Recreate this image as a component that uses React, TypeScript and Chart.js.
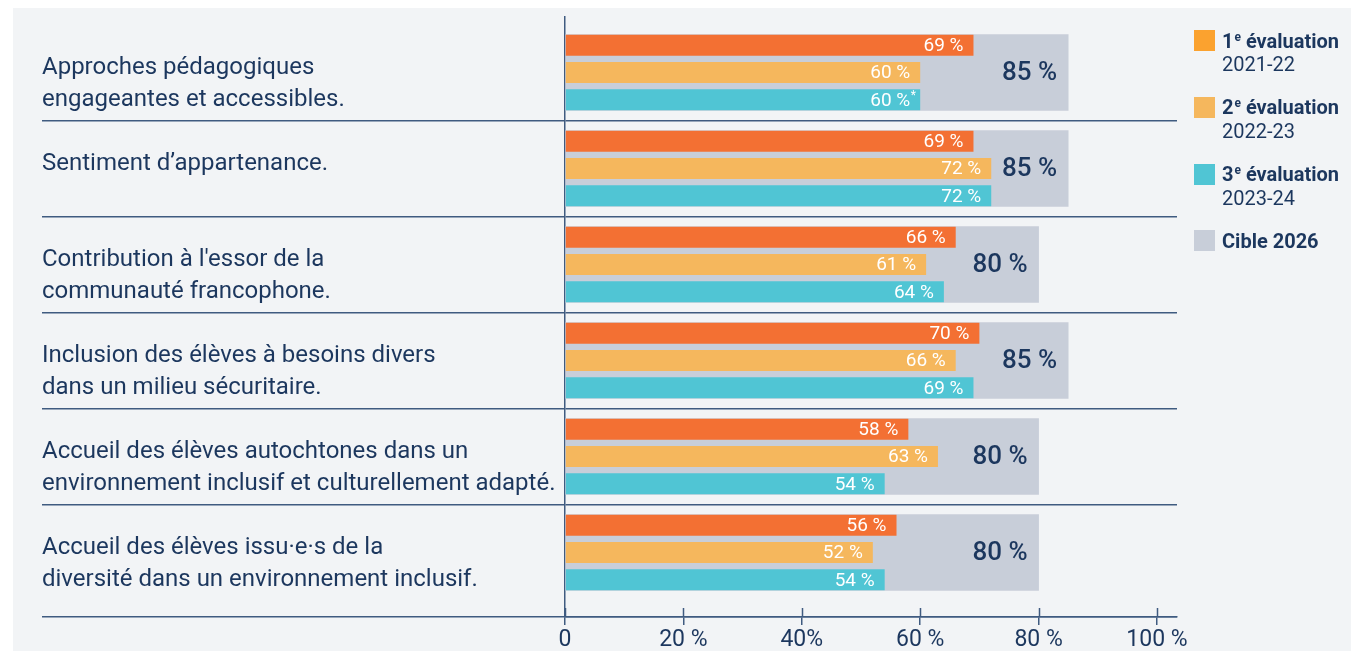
import React, { useEffect, useRef } from 'react';
import { Chart, registerables } from 'chart.js';

Chart.register(...registerables);

// ---------- data ----------
const categories: string[][] = [
  ['Approches pédagogiques', 'engageantes et accessibles.'],
  ['Sentiment d’appartenance.', ''],
  ["Contribution à l'essor de la", 'communauté francophone.'],
  ['Inclusion des élèves à besoins divers', 'dans un milieu sécuritaire.'],
  ['Accueil des élèves autochtones dans un', 'environnement inclusif et culturellement adapté.'],
  ['Accueil des élèves issu·e·s de la', 'diversité dans un environnement inclusif.'],
];
const eval1 = [69, 69, 66, 70, 58, 56];
const eval2 = [60, 72, 61, 66, 63, 52];
const eval3 = [60, 72, 64, 69, 54, 54];
const target2026 = [85, 85, 80, 85, 80, 80];
const eval3Notes = ['*', '', '', '', '', ''];
const xTickValues = [0, 20, 40, 60, 80, 100];
const xTickLabels = ['0', '20 %', '40%', '60 %', '80 %', '100 %'];
const legendItems = [
  { num: '1', sup: 'e', title: ' évaluation', sub: '2021-22', color: '#FBA22F' },
  { num: '2', sup: 'e', title: ' évaluation', sub: '2022-23', color: '#F5B75D' },
  { num: '3', sup: 'e', title: ' évaluation', sub: '2023-24', color: '#50C5D4' },
  { num: 'Cible 2026', sup: '', title: '', sub: '', color: '#C8CED9' },
];

// ---------- style ----------
const NAVY = '#1C375E';
const LINE = '#3F5B80';
const FONT = 'Roboto, "Noto Sans", sans-serif';
const COLORS = ['#F37033', '#F5B75D', '#50C5D4', '#C8CED9'];
const Y_MIN = -0.578;
const Y_MAX = 5.672;
const X_MAX = 103.38;

const barLabels = {
  id: 'barLabels',
  afterDatasetsDraw(chart: any) {
    const ctx = chart.ctx;
    ctx.save();
    ctx.textBaseline = 'middle';
    for (let di = 0; di < 3; di++) {
      const meta = chart.getDatasetMeta(di);
      meta.data.forEach((bar: any, j: number) => {
        const v = chart.data.datasets[di].data[j].x;
        ctx.font = `400 19px ${FONT}`;
        ctx.fillStyle = '#FFFFFF';
        ctx.textAlign = 'right';
        ctx.fillText(`${v} %`, bar.x - 10, bar.y + 1);
        if (di === 2 && eval3Notes[j]) {
          ctx.font = `400 12px ${FONT}`;
          ctx.textAlign = 'left';
          ctx.fillText(eval3Notes[j], bar.x - 9.5, bar.y - 4);
        }
      });
    }
    const gmeta = chart.getDatasetMeta(3);
    gmeta.data.forEach((bar: any, j: number) => {
      const v = chart.data.datasets[3].data[j].x;
      ctx.font = `500 26px ${FONT}`;
      ctx.fillStyle = NAVY;
      ctx.textAlign = 'right';
      ctx.fillText(`${v} %`, bar.x - 11, bar.y + 1);
    });
    ctx.restore();
  },
  afterDraw(chart: any) {
    const xs = chart.scales.x;
    const ctx = chart.ctx;
    ctx.save();
    ctx.strokeStyle = LINE;
    ctx.lineWidth = 1.5;
    xs.ticks.forEach((t: any) => {
      const px = Math.round(xs.getPixelForValue(t.value)) + 0.5;
      ctx.beginPath();
      ctx.moveTo(px, xs.top - 9);
      ctx.lineTo(px, xs.top);
      ctx.stroke();
    });
    ctx.restore();
  },
};

function ChartCanvas() {
  const ref = useRef<HTMLCanvasElement | null>(null);
  useEffect(() => {
    if (!ref.current) return;
    const toPts = (arr: number[]) => arr.map((v, i) => ({ x: v, y: i }));
    // the smallest tick spacing on the index axis is half a category, hence the doubled percentage
    const colored = { categoryPercentage: 1.706, barPercentage: 0.77, order: 0 };
    const chart = new Chart(ref.current, {
      type: 'bar',
      data: {
        datasets: [
          { label: '1re évaluation 2021-22', data: toPts(eval1), backgroundColor: COLORS[0], ...colored },
          { label: '2e évaluation 2022-23', data: toPts(eval2), backgroundColor: COLORS[1], ...colored },
          { label: '3e évaluation 2023-24', data: toPts(eval3), backgroundColor: COLORS[2], ...colored },
          { label: 'Cible 2026', data: toPts(target2026), backgroundColor: COLORS[3], grouped: false, barThickness: 76, order: 1 } as any,
        ] as any,
      },
      options: {
        indexAxis: 'y',
        animation: false,
        responsive: false,
        devicePixelRatio: 1,
        layout: { padding: { left: 42, right: 174, top: 17, bottom: 0 } },
        plugins: { legend: { display: false }, tooltip: { enabled: false } },
        scales: {
          x: {
            type: 'linear',
            position: 'bottom',
            offset: false,
            min: 0,
            max: X_MAX,
            afterBuildTicks: (s: any) => {
              s.ticks = xTickValues.map((v) => ({ value: v }));
            },
            afterFit: (s: any) => {
              s.height = 34;
              s.paddingLeft = 0;
              s.paddingRight = 0;
              s.paddingTop = 0;
              s.paddingBottom = 0;
            },
            grid: { offset: false, drawOnChartArea: false, drawTicks: true, tickLength: 8, color: LINE, lineWidth: 1.5 },
            border: { display: true, color: LINE, width: 1.5 },
            ticks: {
              autoSkip: false,
              maxRotation: 0,
              padding: 1,
              color: NAVY,
              font: { family: FONT, size: 23 },
              callback: (v: any) => {
                const k = xTickValues.indexOf(Number(v));
                return k >= 0 ? xTickLabels[k] : '';
              },
            },
          },
          y: {
            type: 'linear',
            position: 'left',
            offset: false,
            reverse: true,
            min: Y_MIN,
            max: Y_MAX,
            afterBuildTicks: (s: any) => {
              const vals: number[] = [];
              categories.forEach((_, i) => vals.push(i));
              for (let i = 0; i < categories.length - 1; i++) vals.push(i + 0.5);
              vals.push(Y_MAX);
              vals.sort((a, b) => a - b);
              s.ticks = vals.map((v) => ({ value: v }));
            },
            afterFit: (s: any) => {
              s.width = 523;
              s.paddingLeft = 0;
              s.paddingRight = 0;
              s.paddingTop = 0;
              s.paddingBottom = 0;
            },
            grid: {
              offset: false,
              drawOnChartArea: true,
              drawTicks: true,
              tickLength: 523,
              lineWidth: 1.5,
              color: (c: any) => (c.tick && !Number.isInteger(c.tick.value) ? LINE : 'rgba(0,0,0,0)'),
            },
            border: { display: true, color: LINE, width: 1.5 },
            ticks: {
              autoSkip: false,
              crossAlign: 'far',
              padding: 0,
              labelOffset: 11.5,
              color: NAVY,
              font: { family: FONT, size: 24, lineHeight: 1.333 },
              callback: (v: any) => {
                const n = Number(v);
                return Number.isInteger(n) && categories[n] ? categories[n] : '';
              },
            },
          },
        },
      } as any,
      plugins: [barLabels],
    });
    return () => chart.destroy();
  }, []);
  return <canvas ref={ref} width={1351} height={651} style={{ position: 'absolute', left: 0, top: 0 }} />;
}

export default function App() {
  return (
    <div style={{ position: 'fixed', left: 0, top: 0, width: 1351, height: 651, background: '#FFFFFF', overflow: 'hidden', fontFamily: FONT }}>
      <div style={{ position: 'absolute', left: 13, top: 8, right: 0, bottom: 0, background: '#F2F4F6' }} />
      <ChartCanvas />
      {legendItems.map((it, i) => (
        <div key={i}>
          <div style={{ position: 'absolute', left: 1194, top: 30 + i * 66.8, width: 21, height: 21, background: it.color }} />
          <div style={{ position: 'absolute', left: 1222, top: 29.5 + i * 66.8, color: NAVY, lineHeight: '23.5px', fontSize: 20, whiteSpace: 'nowrap' }}>
            <div style={{ fontWeight: 700, height: 23.5 }}>
              {it.num}
              {it.sup ? <span style={{ fontSize: 12, lineHeight: 0, position: 'relative', top: -7, marginLeft: 1 }}>{it.sup}</span> : null}
              {it.title}
            </div>
            {it.sub ? <div style={{ fontWeight: 400, height: 23.5 }}>{it.sub}</div> : null}
          </div>
        </div>
      ))}
    </div>
  );
}
